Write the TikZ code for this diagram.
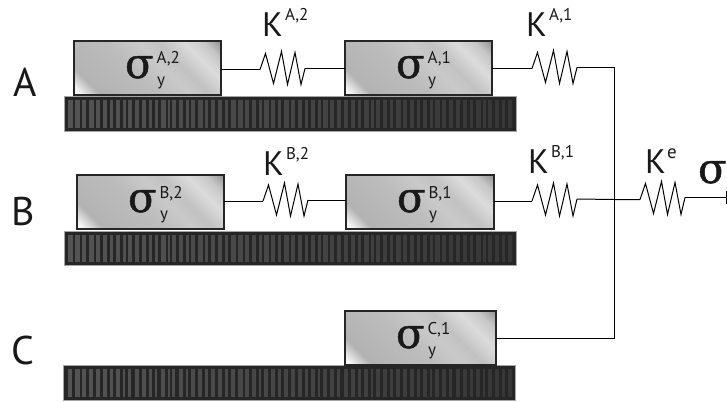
\documentclass[tikz,border=0pt]{standalone}
\usepackage{fontspec}
\setmainfont{PT Sans}
\newfontfamily\sigmafont[FakeBold=1.2]{DejaVu Serif}
\pgfdeclarehorizontalshading{boxshine}{100bp}{color(0bp)=(white); color(17bp)=(white!96!black); color(24bp)=(white!70!black); color(45bp)=(white!74!black); color(56bp)=(white!79!black); color(63bp)=(white!76!black); color(72bp)=(white!86!black); color(79bp)=(white!78!black); color(85bp)=(white!58!black); color(100bp)=(white!58!black)}
\tikzset{
  x=1pt,y=-1pt,
  block/.style={draw=black!85,line width=1.1pt,minimum height=54pt,inner sep=0pt,outer sep=0pt,anchor=north west,
    path picture={\shade[shading=boxshine,shading angle=45] (path picture bounding box.south west) rectangle (path picture bounding box.north east);}},
  wire/.style={draw=black,line width=1pt},
  coil/.style={draw=black,line width=1pt,line join=miter},
  basebar/.style={fill=black!85,draw=black!35,line width=.5pt,minimum width=452pt,minimum height=34.5pt,inner sep=0pt,outer sep=0pt,anchor=north west},
  lab/.style={inner sep=0pt,outer sep=0pt,anchor=base west,text=black!90},
}
\newcommand{\gsig}{{\sigmafont\fontsize{42}{42}\selectfont σ}}
\newcommand{\springat}[2]{\draw[coil] (#1) -- ++(5.5,-16) -- ++(8,30) -- ++(8,-32) -- ++(6,33) -- ++(7.5,-32) -- ++(6,32) -- (#2);}
\newcommand{\barat}[3]{%
  \node[basebar] (#1) at (#2,#3) {};
  \foreach \s/\w in {4/4.5,11/5,18/4,25/4.5,32/4,39/4,46/3,52/4,59/2.5,64/3.5,71/4,78/4,85/3,91/2.5,97/4.5,104/2,108/3.5,115/4,122/2.5,127/4,134/4.5,141/3,147/4,154/4,161/3,167/4.5,174/5,181/4,188/4,195/2.5,200/4.5,207/4,214/3,220/4.5,227/4,234/4,241/3,247/4,254/2.5,259/4.5,266/4,273/3.5,280/4,287/4,294/3,300/4.5,307/2.5,312/4,319/4,326/3,332/4.5,339/4,346/4,353/3,359/4,366/2.5,371/4.5,378/4,385/3.5,392/4,399/4,406/3,412/4.5,419/2.5,424/4,431/4,438/3,444/4}
    {\pgfmathsetmacro\stripeshade{67+\s/452*12}%
     \fill[black!\stripeshade] ([shift={(\s,3.5)}]#1.north west) rectangle ++(\w,27.5);}%
}
\newcommand{\sigblock}[5]{%
  \node[block,minimum width=#5] (#1) at (#2,#3) {};
  \node[lab] (#1s) at (#2+51,#3+37) {\gsig};
  \node[lab] (#1t) at (#2+82.5,#3+23) {\fontsize{17}{17}\selectfont #4};
  \node[lab] (#1y) at (#2+83,#3+44) {\fontsize{17}{17}\selectfont y};
}
\newcommand{\kay}[4]{%
  \node[lab] (#1) at (#2,#3) {\fontsize{34}{34}\selectfont K};
  \node[lab] (#1t) at (#2+23,#3-16) {\fontsize{17}{17}\selectfont #4};
}
\begin{document}
\begin{tikzpicture}
\useasboundingbox (0,0) rectangle (727,401);
\barat{ba}{64}{96.5}
\barat{bb}{64}{231}
\barat{bc}{63.5}{365.5}
\sigblock{a2}{74}{41}{A,2}{147pt}
\sigblock{a1}{345}{41}{A,1}{147pt}
\sigblock{b2}{77}{175}{B,2}{147pt}
\sigblock{b1}{346}{175}{B,1}{148pt}
\sigblock{c1}{345}{311}{C,1}{151pt}
\node[lab,font=\fontsize{40}{40}\selectfont] (la) at (13,97) {A};
\node[lab,font=\fontsize{40}{40}\selectfont] (lb) at (11,225) {B};
\node[lab,font=\fontsize{40}{40}\selectfont] (lc) at (11.5,364) {C};
\kay{ka2}{262}{37}{A,2}
\kay{ka1}{526}{37}{A,1}
\kay{kb2}{263}{175}{B,2}
\kay{kb1}{528}{173}{B,1}
\node[lab] (ke) at (645,173) {\fontsize{34}{34}\selectfont K};
\node[lab] (ket) at (667,158) {\fontsize{19}{19}\selectfont e};
\node[lab] (sg) at (698,183) {\gsig};
\coordinate (s1i) at (260,69.5); \coordinate (s1o) at (305,68.5); \coordinate (s1e) at (343,68.5);
\coordinate (s2i) at (532,68.5); \coordinate (s2o) at (577,67.5); \coordinate (j1) at (614,67.5);
\coordinate (s3i) at (263,201); \coordinate (s3o) at (308,200); \coordinate (s3e) at (346,200);
\coordinate (s4i) at (532,201); \coordinate (s4o) at (577,199); \coordinate (j2) at (614,199.5);
\coordinate (s5i) at (640,199.5); \coordinate (s5o) at (685,197.5); \coordinate (endp) at (727,197.5);
\coordinate (j3) at (614,338);
\draw[wire] (a2.east |- s1i) -- (s1i); \springat{s1i}{s1o} \draw[wire] (s1o) -- (a1.west |- s1e);
\draw[wire] (a1.east |- s2i) -- (s2i); \springat{s2i}{s2o} \draw[wire] (s2o) -- (j1) -- (j3) -- (c1.east |- j3);
\draw[wire] (b2.east |- s3i) -- (s3i); \springat{s3i}{s3o} \draw[wire] (s3o) -- (b1.west |- s3e);
\draw[wire] (b1.east |- s4i) -- (s4i); \springat{s4i}{s4o} \draw[wire] (s4o) -- (j2) -- (s5i); \springat{s5i}{s5o} \draw[wire] (s5o) -- (endp);
\draw[wire] (726.5,191) -- (726.5,204);
\end{tikzpicture}
\end{document}
